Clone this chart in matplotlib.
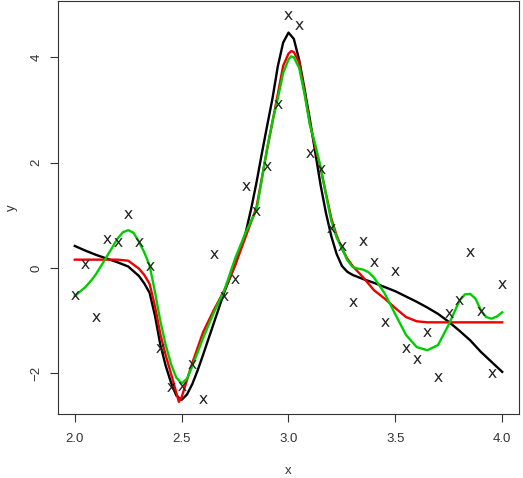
import matplotlib
matplotlib.use("Agg")
import matplotlib.pyplot as plt

plt.rcParams['font.family'] = ['Liberation Sans', 'DejaVu Sans']

# observed points
pts_x = [2.00, 2.05, 2.10, 2.15, 2.20, 2.25, 2.30, 2.35, 2.40, 2.45, 2.50,
         2.55, 2.60, 2.65, 2.70, 2.75, 2.80, 2.85, 2.90, 2.95, 3.00,
         3.05, 3.10, 3.15, 3.20, 3.25, 3.30, 3.35, 3.40, 3.45, 3.50,
         3.55, 3.60, 3.65, 3.70, 3.75, 3.80, 3.85, 3.90, 3.95, 4.00]
pts_y = [-0.51, 0.08, -0.93, 0.55, 0.49, 1.02, 0.49, 0.04, -1.52, -2.26, -2.24,
         -1.82, -2.49, 0.27, -0.53, -0.21, 1.56, 1.08, 1.94, 3.11, 4.80,
         4.61, 2.18, 1.88, 0.76, 0.42, -0.65, 0.51, 0.11, -1.02, -0.06,
         -1.52, -1.73, -1.21, -2.07, -0.85, -0.61, 0.30, -0.82, -1.99, -0.30]

# black fit
black_x = [2.00, 2.05, 2.10, 2.15, 2.20, 2.25, 2.30, 2.325, 2.35, 2.375, 2.40, 2.425,
           2.45, 2.475, 2.50, 2.525, 2.55, 2.575, 2.60, 2.65, 2.70, 2.75, 2.80, 2.825,
           2.85, 2.875, 2.90, 2.925, 2.95, 2.975, 3.00, 3.025, 3.05, 3.075, 3.10, 3.125,
           3.15, 3.175, 3.20, 3.225, 3.25, 3.275, 3.30, 3.35, 3.40, 3.45, 3.50,
           3.55, 3.60, 3.65, 3.70, 3.75, 3.80, 3.85, 3.90, 3.95, 4.00]
black_y = [0.42, 0.33, 0.25, 0.18, 0.11, 0.03, -0.15, -0.29, -0.47, -0.90, -1.45, -1.85,
           -2.17, -2.42, -2.50, -2.40, -2.20, -1.94, -1.65, -1.05, -0.45, 0.06, 0.68, 1.12,
           1.62, 2.17, 2.70, 3.22, 3.83, 4.28, 4.47, 4.35, 3.95, 3.40, 2.82, 2.20,
           1.58, 1.05, 0.61, 0.27, 0.04, -0.07, -0.13, -0.21, -0.28, -0.36, -0.44,
           -0.54, -0.64, -0.75, -0.87, -1.02, -1.19, -1.37, -1.59, -1.78, -1.97]

# red fit
red_x = [2.00, 2.10, 2.20, 2.25, 2.30, 2.325, 2.35, 2.375, 2.40, 2.425, 2.45, 2.487,
         2.50, 2.55, 2.60, 2.65, 2.70, 2.75, 2.80, 2.85, 2.875, 2.90, 2.925, 2.95,
         2.975, 3.00, 3.013, 3.025, 3.05, 3.075, 3.10, 3.125, 3.15, 3.175, 3.20, 3.225,
         3.25, 3.275, 3.30, 3.35, 3.40, 3.45, 3.50, 3.55, 3.60, 3.65, 3.70, 4.00]
red_y = [0.16, 0.16, 0.16, 0.14, -0.01, -0.13, -0.30, -0.72, -1.25, -1.65, -2.00, -2.54,
         -2.45, -1.80, -1.22, -0.80, -0.42, 0.05, 0.60, 1.15, 1.70, 2.25, 2.78, 3.30,
         3.84, 4.07, 4.12, 4.10, 3.90, 3.35, 2.75, 2.30, 1.90, 1.42, 0.95, 0.62,
         0.37, 0.18, 0.04, -0.18, -0.42, -0.58, -0.76, -0.93, -1.01, -1.03, -1.03, -1.03]

# green fit
green_x = [2.00, 2.05, 2.08, 2.10, 2.15, 2.20, 2.225, 2.25, 2.275, 2.30, 2.325, 2.35,
           2.375, 2.40, 2.425, 2.45, 2.475, 2.50, 2.525, 2.55, 2.575, 2.60, 2.65, 2.70,
           2.75, 2.80, 2.85, 2.875, 2.90, 2.925, 2.95, 2.975, 3.00, 3.013, 3.025, 3.05,
           3.075, 3.10, 3.125, 3.15, 3.175, 3.20, 3.225, 3.25, 3.275, 3.30, 3.325, 3.35,
           3.375, 3.40, 3.45, 3.50, 3.55, 3.60, 3.65, 3.70, 3.75, 3.80, 3.825, 3.85,
           3.875, 3.90, 3.925, 3.95, 3.975, 4.00]
green_y = [-0.53, -0.36, -0.22, -0.11, 0.22, 0.56, 0.68, 0.72, 0.67, 0.50, 0.30, 0.05,
           -0.45, -1.00, -1.45, -1.82, -2.08, -2.19, -2.10, -1.86, -1.60, -1.33, -0.85, -0.42,
           0.18, 0.68, 1.10, 1.68, 2.28, 2.78, 3.22, 3.70, 3.96, 4.02, 4.00, 3.80,
           3.30, 2.72, 2.35, 1.92, 1.40, 0.90, 0.58, 0.38, 0.15, 0.02, -0.01, -0.03,
           -0.08, -0.18, -0.48, -0.88, -1.27, -1.50, -1.56, -1.46, -1.07, -0.62, -0.50, -0.49,
           -0.58, -0.80, -0.93, -0.96, -0.92, -0.84]

x_ticks = [2.0, 2.5, 3.0, 3.5, 4.0]
x_tick_labels = ["2.0", "2.5", "3.0", "3.5", "4.0"]
y_ticks = [-2, 0, 2, 4]
y_tick_labels = ["\u22122", "0", "2", "4"]

fig = plt.figure(figsize=(5.23, 4.78), dpi=100)
ax = fig.add_axes([57.7 / 523, 64 / 478, (519.3 - 57.7) / 523, (477 - 64) / 478])

ax.plot(black_x, black_y, color="black", lw=1.7, zorder=3, solid_joinstyle="round")
ax.plot(red_x, red_y, color="#EE0000", lw=1.7, zorder=3, solid_joinstyle="round")
ax.plot(green_x, green_y, color="#00CD00", lw=1.7, zorder=3, solid_joinstyle="round")
ax.scatter(pts_x, pts_y, marker=r"$\mathsf{x}$", s=40, color="#222222", linewidths=0, zorder=4)

ax.set_xlim(1.92, 4.08)
ax.set_ylim(-2.77, 5.07)
ax.set_xticks(x_ticks)
ax.set_xticklabels(x_tick_labels)
ax.set_yticks(y_ticks)
ax.set_yticklabels(y_tick_labels, rotation=90, va="center")
ax.tick_params(direction="out", length=6, width=0.8, labelsize=9.5, colors="#333333")
ax.tick_params(axis="x", pad=8)
ax.tick_params(axis="y", pad=5)
for s in ax.spines.values():
    s.set_linewidth(0.8)
    s.set_color("#333333")
ax.set_xlabel("x", fontsize=9.5, labelpad=14, color="#333333")
ax.set_ylabel("y", fontsize=9.5, labelpad=9, color="#333333")

fig.savefig("out.png", dpi=100)
